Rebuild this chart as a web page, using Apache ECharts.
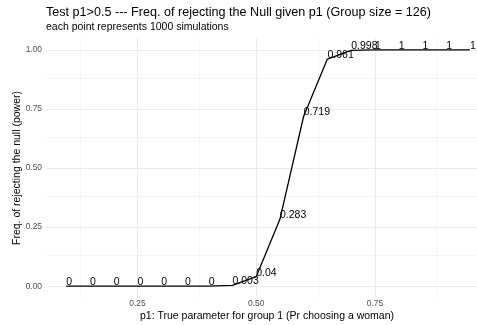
<!DOCTYPE html>
<html>
<head>
<meta charset="utf-8">
<script src="https://cdn.jsdelivr.net/npm/echarts@6/dist/echarts.min.js"></script>
<style>html,body{margin:0;padding:0;background:#fff}#c{width:477px;height:325px}</style>
</head>
<body>
<div id="c"></div>
<script>
// Data
const pValues = [0.1,0.15,0.2,0.25,0.3,0.35,0.4,0.45,0.5,0.55,0.6,0.65,0.7,0.75,0.8,0.85,0.9,0.95];
const power   = [0,0,0,0,0,0,0,0.003,0.04,0.283,0.719,0.961,0.998,1,1,1,1,1];
const xTicks = [0.25,0.5,0.75];
const xMinor = [0.125,0.375,0.625,0.875];
const yTicks = [0,0.25,0.5,0.75,1];
const yMinor = [0.125,0.375,0.625,0.875];
const titleText = 'Test p1>0.5 --- Freq. of rejecting the Null given p1 (Group size = 126)';
const subtitleText = 'each point represents 1000 simulations';
const xTitle = 'p1: True parameter for group 1 (Pr choosing a woman)';
const yTitle = 'Freq. of rejecting the null (power)';

const FONT = '"Liberation Sans", Arial, Helvetica, sans-serif';
const chart = echarts.init(document.getElementById('c'), null, {renderer:'canvas'});

const majorStyle = {color:'#ebebeb', width:1.1, type:'solid'};
const minorStyle = {color:'#f0f0f0', width:0.7, type:'solid'};
const gridLines = []
  .concat(xMinor.map(v=>({xAxis:v, lineStyle:minorStyle})))
  .concat(yMinor.map(v=>({yAxis:v, lineStyle:minorStyle})))
  .concat(xTicks.map(v=>({xAxis:v, lineStyle:majorStyle})))
  .concat(yTicks.map(v=>({yAxis:v, lineStyle:majorStyle})));

chart.setOption({
  animation:false,
  backgroundColor:'#ffffff',
  grid:{left:46, right:0, top:38, bottom:27, containLabel:false},
  xAxis:{
    type:'value', min:0.0575, max:0.965,
    axisLine:{show:false}, axisTick:{show:false}, splitLine:{show:false},
    axisLabel:{customValues:xTicks, formatter:v=>v.toFixed(2), color:'#4d4d4d', fontSize:8.4, fontFamily:FONT, margin:2}
  },
  yAxis:{
    type:'value', min:-0.05, max:1.05,
    axisLine:{show:false}, axisTick:{show:false}, splitLine:{show:false},
    axisLabel:{customValues:yTicks, formatter:v=>v.toFixed(2), color:'#4d4d4d', fontSize:8.4, fontFamily:FONT, margin:4}
  },
  graphic:[
    {type:'text', left:46, top:6, style:{text:titleText, font:'12.6px '+FONT, fill:'#000'}},
    {type:'text', left:46, top:21.5, style:{text:subtitleText, font:'10.5px '+FONT, fill:'#000'}},
    {type:'text', x:267, y:316, style:{text:xTitle, font:'10.5px '+FONT, fill:'#000', align:'center', verticalAlign:'middle'}},
    {type:'text', x:17, y:168, rotation:Math.PI/2, style:{text:yTitle, font:'10.5px '+FONT, fill:'#000', align:'center', verticalAlign:'middle'}}
  ],
  series:[
    {
      type:'line', data:[], z:0, silent:true,
      markLine:{silent:true, symbol:['none','none'], label:{show:false}, animation:false, data:gridLines}
    },
    {
      type:'line', z:5,
      data:pValues.map((x,i)=>[x, power[i]]),
      symbol:'circle', symbolSize:0.1, showSymbol:true,
      itemStyle:{color:'#000'},
      lineStyle:{color:'#000', width:1.3},
      label:{show:true, position:'right', distance:0, offset:[0,-4], formatter:p=>String(p.value[1]), color:'#000', fontSize:10.5, fontFamily:FONT, align:'left', verticalAlign:'middle'},
      emphasis:{disabled:true}
    }
  ]
});
</script>
</body>
</html>
